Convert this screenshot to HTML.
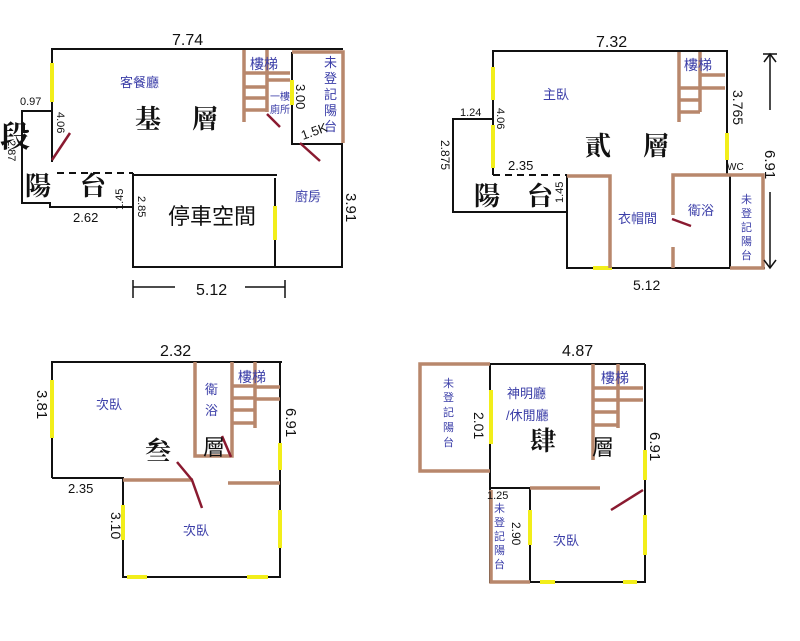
<!DOCTYPE html>
<html><head><meta charset="utf-8"><style>
html,body{margin:0;padding:0;background:#fff;}
svg{display:block;}
.k{stroke:#111;stroke-width:2;fill:none;}
.d{stroke:#111;stroke-width:2;fill:none;stroke-dasharray:7 5;}
.b{stroke:#b8876c;stroke-width:3.5;fill:none;}
.y{stroke:#f2ee1a;stroke-width:4;fill:none;}
.r{stroke:#8a1a30;stroke-width:2.5;fill:none;}
.t{font-family:"Liberation Sans","Noto Sans CJK TC",sans-serif;fill:#3b3ea8;font-size:13px;}
.s{font-family:"Liberation Sans","Noto Sans CJK TC",sans-serif;fill:#3b3ea8;font-size:10px;}
.n{font-family:"Liberation Sans",sans-serif;fill:#111;font-size:13px;}
.L{font-family:"Liberation Serif","Noto Serif CJK SC",serif;fill:#111;font-size:26px;font-weight:bold;}
.M{font-family:"Liberation Sans","Noto Sans CJK TC",sans-serif;fill:#111;font-size:22px;}
</style></head><body>
<svg width="800" height="641" viewBox="0 0 800 641" xmlns="http://www.w3.org/2000/svg">
<g>
<polyline class="k" points="52,162 52,49 343,49"/>
<polyline class="k" points="52,111 22,111 22,203 50,203 50,207 133,207"/>
<line class="d" x1="57" y1="173" x2="133" y2="173"/>
<polyline class="k" points="133,173 133,267 342,267 342,144 292,144 292,52"/>
<line class="k" x1="133" y1="175" x2="277" y2="175"/>
<line class="k" x1="275" y1="178" x2="275" y2="267"/>
<line class="y" x1="52" y1="63" x2="52" y2="102"/>
<line class="y" x1="275" y1="206" x2="275" y2="240"/>
<line class="y" x1="292" y1="80" x2="292" y2="105"/>
<line class="b" x1="244" y1="50" x2="244" y2="122"/>
<line class="b" x1="267" y1="50" x2="267" y2="112"/>
<line class="b" x1="244" y1="73" x2="290" y2="73"/>
<line class="b" x1="244" y1="87" x2="267" y2="87"/>
<line class="b" x1="267" y1="80" x2="290" y2="80"/>
<line class="b" x1="244" y1="98" x2="267" y2="98"/>
<line class="b" x1="244" y1="110" x2="267" y2="110"/>
<polyline class="b" points="292,52 343,52 343,143"/>
<line class="r" x1="52" y1="160" x2="70" y2="133"/>
<line class="r" x1="267" y1="114" x2="280" y2="127"/>
<line class="r" x1="300" y1="143" x2="320" y2="161"/>
<line class="k" x1="133" y1="287" x2="175" y2="287" style="stroke-width:1.5"/>
<line class="k" x1="245" y1="287" x2="285" y2="287" style="stroke-width:1.5"/>
<line class="k" x1="133" y1="280" x2="133" y2="298" style="stroke-width:1.5"/>
<line class="k" x1="285" y1="280" x2="285" y2="298" style="stroke-width:1.5"/>
<text class="n" x="196" y="295" style="font-size:16px">5.12</text>
<text class="n" x="172" y="45" style="font-size:16px">7.74</text>
<text class="t" x="120" y="87">客餐廳</text>
<text class="L" x="135" y="128">基</text><text class="L" x="192" y="128">層</text>
<text class="t" x="250" y="69" style="font-size:14px">樓梯</text>
<text class="s" x="270" y="100">一樓</text><text class="s" x="270" y="113">廁所</text>
<text class="t" x="324" y="67">未</text><text class="t" x="324" y="83">登</text><text class="t" x="324" y="99">記</text><text class="t" x="324" y="115">陽</text><text class="t" x="324" y="131">台</text>
<text class="n" x="296" y="84" transform="rotate(90 296 84)">3.00</text>
<text class="n" x="303" y="140" transform="rotate(-20 303 140)">1.5K</text>
<text class="n" x="20" y="105" style="font-size:11px">0.97</text>
<text class="n" x="57" y="112" transform="rotate(90 57 112)" style="font-size:11px">4.06</text>
<text class="n" x="8" y="140" transform="rotate(90 8 140)" style="font-size:11px">2.87</text>
<text class="L" x="0" y="147" style="font-size:30px">段</text>
<text class="L" x="25" y="195">陽</text><text class="L" x="80" y="195">台</text>
<text class="n" x="123" y="210" transform="rotate(-90 123 210)" style="font-size:11px">1.45</text>
<text class="n" x="138" y="196" transform="rotate(90 138 196)" style="font-size:11px">2.85</text>
<text class="n" x="73" y="222">2.62</text>
<text class="M" x="168" y="224">停車空間</text>
<text class="t" x="295" y="201">廚房</text>
<text class="n" x="346" y="193" transform="rotate(90 346 193)" style="font-size:15px">3.91</text>
</g>
<g>
<polyline class="k" points="493,175 493,51 727,51 727,175"/>
<polyline class="k" points="493,119 453,119 453,212 567,212"/>
<line class="d" x1="493" y1="175" x2="567" y2="175"/>
<polyline class="k" points="567,176 567,268 765,268"/>
<line class="k" x1="730" y1="174" x2="730" y2="268"/>
<line class="y" x1="493" y1="67" x2="493" y2="100"/>
<line class="y" x1="493" y1="125" x2="493" y2="168"/>
<line class="y" x1="727" y1="133" x2="727" y2="160"/>
<line class="y" x1="593" y1="268" x2="612" y2="268"/>
<polyline class="b" points="567,176 610,176 610,268"/>
<polyline class="b" points="673,215 673,175 730,175"/>
<line class="b" x1="673" y1="247" x2="673" y2="268"/>
<polyline class="b" points="730,175 763,175 763,268 730,268"/>
<line class="b" x1="679" y1="52" x2="679" y2="122"/>
<line class="b" x1="700" y1="52" x2="700" y2="112"/>
<line class="b" x1="700" y1="75" x2="725" y2="75"/>
<line class="b" x1="700" y1="88" x2="725" y2="88"/>
<line class="b" x1="679" y1="88" x2="700" y2="88"/>
<line class="b" x1="679" y1="100" x2="700" y2="100"/>
<line class="b" x1="679" y1="112" x2="700" y2="112"/>
<line class="r" x1="672" y1="219" x2="691" y2="226"/>
<line class="k" x1="770" y1="54" x2="770" y2="110" style="stroke-width:1.5"/>
<polyline class="k" points="764,62 770,54 776,62" style="stroke-width:1.5"/>
<line class="k" x1="763" y1="54" x2="777" y2="54" style="stroke-width:1.5"/>
<line class="k" x1="770" y1="192" x2="770" y2="268" style="stroke-width:1.5"/>
<polyline class="k" points="764,260 770,268 776,260" style="stroke-width:1.5"/>
<text class="n" x="596" y="47" style="font-size:16px">7.32</text>
<text class="t" x="543" y="99">主臥</text>
<text class="L" x="585" y="155">貳</text><text class="L" x="643" y="155">層</text>
<text class="t" x="684" y="70" style="font-size:14px">樓梯</text>
<text class="n" x="733" y="90" transform="rotate(90 733 90)" style="font-size:14px">3.765</text>
<text class="n" x="765" y="150" transform="rotate(90 765 150)" style="font-size:15px">6.91</text>
<text class="n" x="460" y="116" style="font-size:11px">1.24</text>
<text class="n" x="497" y="108" transform="rotate(90 497 108)" style="font-size:11px">4.06</text>
<text class="n" x="441" y="140" transform="rotate(90 441 140)" style="font-size:12px">2.875</text>
<text class="n" x="508" y="170">2.35</text>
<text class="n" x="563" y="203" transform="rotate(-90 563 203)" style="font-size:11px">1.45</text>
<text class="n" x="727" y="170" style="font-size:10px">WC</text>
<text class="L" x="474" y="205">陽</text><text class="L" x="527" y="205">台</text>
<text class="t" x="618" y="223">衣帽間</text>
<text class="t" x="688" y="215">衛浴</text>
<text class="s" x="741" y="203" style="font-size:11px">未</text><text class="s" x="741" y="217" style="font-size:11px">登</text><text class="s" x="741" y="231" style="font-size:11px">記</text><text class="s" x="741" y="245" style="font-size:11px">陽</text><text class="s" x="741" y="259" style="font-size:11px">台</text>
<text class="n" x="633" y="290" style="font-size:14px">5.12</text>
</g>
<g>
<polyline class="k" points="52,478 52,362 282,362"/>
<polyline class="k" points="52,478 123,478 123,577 280,577 280,362"/>
<line class="y" x1="52" y1="380" x2="52" y2="438"/>
<line class="y" x1="123" y1="505" x2="123" y2="540"/>
<line class="y" x1="127" y1="577" x2="147" y2="577"/>
<line class="y" x1="247" y1="577" x2="268" y2="577"/>
<line class="y" x1="280" y1="443" x2="280" y2="470"/>
<line class="y" x1="280" y1="510" x2="280" y2="548"/>
<line class="b" x1="123" y1="480" x2="193" y2="480"/>
<line class="b" x1="228" y1="483" x2="280" y2="483"/>
<polyline class="b" points="195,362 195,456 232,456 232,428"/>
<line class="b" x1="232" y1="362" x2="232" y2="428"/>
<line class="b" x1="255" y1="362" x2="255" y2="428"/>
<line class="b" x1="232" y1="386" x2="255" y2="386"/>
<line class="b" x1="232" y1="398" x2="255" y2="398"/>
<line class="b" x1="232" y1="410" x2="255" y2="410"/>
<line class="b" x1="232" y1="423" x2="255" y2="423"/>
<line class="b" x1="255" y1="387" x2="280" y2="387"/>
<line class="b" x1="255" y1="399" x2="280" y2="399"/>
<polyline class="r" points="177,462 192,480 202,508"/>
<line class="r" x1="222" y1="436" x2="231" y2="457"/>
<text class="n" x="160" y="356" style="font-size:16px">2.32</text>
<text class="t" x="96" y="409">次臥</text>
<text class="t" x="183" y="535">次臥</text>
<text class="t" x="205" y="394">衛</text><text class="t" x="205" y="415">浴</text>
<text class="t" x="238" y="382" style="font-size:14px">樓梯</text>
<text class="L" x="145" y="460">叁</text>
<text class="M" x="203" y="455">層</text>
<text class="n" x="37" y="390" transform="rotate(90 37 390)" style="font-size:15px">3.81</text>
<text class="n" x="286" y="408" transform="rotate(90 286 408)" style="font-size:15px">6.91</text>
<text class="n" x="68" y="493">2.35</text>
<text class="n" x="111" y="512" transform="rotate(90 111 512)" style="font-size:14px">3.10</text>
</g>
<g>
<line class="k" x1="490" y1="364" x2="645" y2="364"/>
<line class="k" x1="490" y1="364" x2="490" y2="583"/>
<line class="k" x1="490" y1="488" x2="530" y2="488"/>
<polyline class="k" points="530,488 530,582 645,582 645,364"/>
<polyline class="b" points="490,364 420,364 420,471 490,471"/>
<line class="b" x1="530" y1="488" x2="600" y2="488"/>
<polyline class="b" points="491,490 491,582 530,582"/>
<line class="y" x1="491" y1="390" x2="491" y2="444"/>
<line class="y" x1="530" y1="510" x2="530" y2="545"/>
<line class="y" x1="540" y1="582" x2="555" y2="582"/>
<line class="y" x1="623" y1="582" x2="637" y2="582"/>
<line class="y" x1="645" y1="450" x2="645" y2="480"/>
<line class="y" x1="645" y1="515" x2="645" y2="555"/>
<line class="b" x1="593" y1="364" x2="593" y2="460"/>
<line class="b" x1="618" y1="364" x2="618" y2="428"/>
<line class="b" x1="593" y1="388" x2="618" y2="388"/>
<line class="b" x1="593" y1="400" x2="618" y2="400"/>
<line class="b" x1="593" y1="412" x2="618" y2="412"/>
<line class="b" x1="593" y1="425" x2="618" y2="425"/>
<line class="b" x1="618" y1="388" x2="643" y2="388"/>
<line class="b" x1="618" y1="400" x2="643" y2="400"/>
<line class="r" x1="611" y1="510" x2="643" y2="490"/>
<text class="n" x="562" y="356" style="font-size:16px">4.87</text>
<text class="t" x="507" y="398">神明廳</text>
<text class="t" x="506" y="420">/休閒廳</text>
<text class="L" x="530" y="450">肆</text>
<text class="M" x="592" y="455">層</text>
<text class="t" x="601" y="383" style="font-size:14px">樓梯</text>
<text class="s" x="443" y="387" style="font-size:11px">未</text><text class="s" x="443" y="401" style="font-size:11px">登</text><text class="s" x="443" y="416" style="font-size:11px">記</text><text class="s" x="443" y="431" style="font-size:11px">陽</text><text class="s" x="443" y="446" style="font-size:11px">台</text>
<text class="n" x="474" y="412" transform="rotate(90 474 412)" style="font-size:14px">2.01</text>
<text class="n" x="650" y="432" transform="rotate(90 650 432)" style="font-size:15px">6.91</text>
<text class="n" x="487" y="499" style="font-size:11px">1.25</text>
<text class="s" x="494" y="512" style="font-size:11px">未</text><text class="s" x="494" y="526" style="font-size:11px">登</text><text class="s" x="494" y="540" style="font-size:11px">記</text><text class="s" x="494" y="554" style="font-size:11px">陽</text><text class="s" x="494" y="568" style="font-size:11px">台</text>
<text class="n" x="512" y="522" transform="rotate(90 512 522)" style="font-size:12px">2.90</text>
<text class="t" x="553" y="545">次臥</text>
</g>
</svg>
</body></html>
